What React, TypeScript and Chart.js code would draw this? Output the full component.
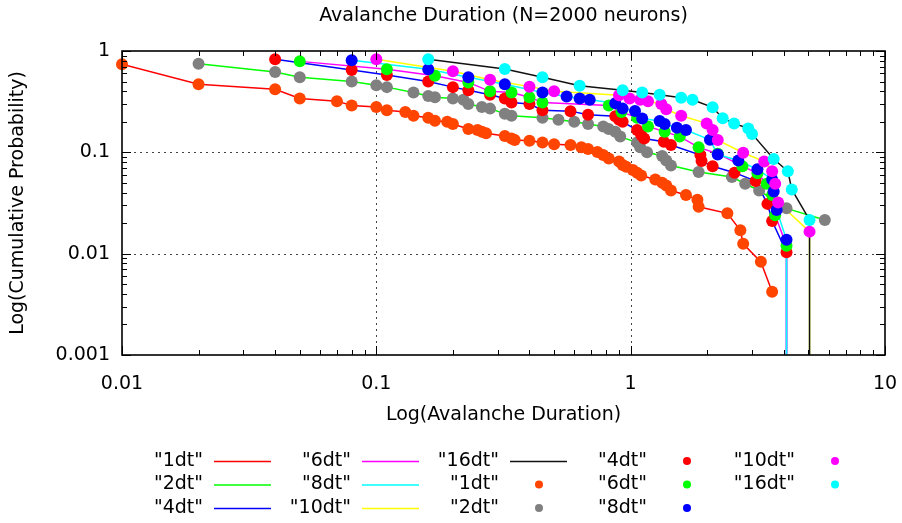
import { useEffect, useRef } from "react";
import { Chart, registerables } from "chart.js";

Chart.register(...registerables);

// Bin widths of the avalanche-duration analysis
const SERIES_NAMES = ["1dt", "2dt", "4dt", "6dt", "8dt", "10dt", "16dt"];
const LINE_COLORS = ["#ff0000", "#00ff00", "#0000ff", "#ff00ff", "#00ffff", "#ffff00", "#111111"];
const POINT_COLORS = ["#ff4500", "#808080", "#ff0000", "#00ff00", "#0000ff", "#ff00ff", "#00ffff"];

// Duration (x) and cumulative probability (y) per bin width.
// A trailing 0 marks where the distribution runs out.
const dur1dt = [0.01, 0.02, 0.04, 0.05, 0.07, 0.08, 0.1, 0.11, 0.13, 0.14, 0.16, 0.17, 0.19, 0.2, 0.23, 0.25, 0.26, 0.27, 0.32, 0.34, 0.35, 0.4, 0.45, 0.5, 0.58, 0.64, 0.68, 0.74, 0.78, 0.82, 0.9, 0.93, 0.96, 1.02, 1.06, 1.1, 1.25, 1.33, 1.38, 1.44, 1.65, 1.83, 1.85, 2.4, 2.7, 2.77, 3.25, 3.6];
const cdf1dt = [0.74, 0.47, 0.42, 0.34, 0.32, 0.29, 0.28, 0.26, 0.25, 0.23, 0.22, 0.205, 0.2, 0.19, 0.17, 0.166, 0.16, 0.154, 0.145, 0.137, 0.132, 0.13, 0.125, 0.12, 0.118, 0.112, 0.108, 0.101, 0.094, 0.087, 0.081, 0.075, 0.072, 0.067, 0.063, 0.059, 0.054, 0.05, 0.047, 0.042, 0.038, 0.034, 0.029, 0.025, 0.017, 0.0125, 0.0083, 0.0042];

const dur2dt = [0.02, 0.04, 0.05, 0.08, 0.1, 0.11, 0.14, 0.16, 0.17, 0.2, 0.22, 0.23, 0.26, 0.28, 0.32, 0.34, 0.45, 0.52, 0.6, 0.68, 0.78, 0.82, 0.87, 0.91, 1.06, 1.09, 1.16, 1.33, 1.38, 1.44, 1.85, 2.5, 2.82, 3.2, 4.1, 5.8];
const cdf2dt = [0.75, 0.62, 0.55, 0.5, 0.46, 0.44, 0.39, 0.36, 0.35, 0.34, 0.33, 0.3, 0.28, 0.27, 0.24, 0.23, 0.22, 0.21, 0.2, 0.19, 0.18, 0.17, 0.16, 0.143, 0.125, 0.112, 0.1, 0.092, 0.083, 0.074, 0.064, 0.057, 0.049, 0.042, 0.028, 0.0215];

const dur4dt = [0.04, 0.08, 0.11, 0.16, 0.2, 0.23, 0.28, 0.32, 0.34, 0.4, 0.45, 0.58, 0.68, 0.87, 0.9, 0.93, 1.06, 1.1, 1.13, 1.35, 1.44, 1.88, 1.9, 2.1, 2.56, 3.1, 3.45, 3.6, 4.1, 4.1];
const cdf4dt = [0.83, 0.65, 0.58, 0.5, 0.44, 0.41, 0.37, 0.34, 0.31, 0.3, 0.26, 0.255, 0.235, 0.227, 0.21, 0.2, 0.166, 0.148, 0.137, 0.127, 0.118, 0.094, 0.082, 0.073, 0.063, 0.052, 0.031, 0.021, 0.0103, 0];

const dur6dt = [0.05, 0.11, 0.17, 0.23, 0.28, 0.34, 0.4, 0.45, 0.82, 0.92, 1.06, 1.17, 1.36, 1.56, 1.85, 2.2, 2.75, 3.15, 3.43, 3.6, 3.7, 4.1, 4.1];
const cdf6dt = [0.79, 0.66, 0.57, 0.49, 0.4, 0.39, 0.35, 0.31, 0.29, 0.25, 0.22, 0.18, 0.16, 0.143, 0.112, 0.097, 0.073, 0.062, 0.049, 0.038, 0.024, 0.012, 0];

const dur8dt = [0.08, 0.16, 0.23, 0.32, 0.45, 0.56, 0.63, 0.69, 0.87, 0.93, 1.04, 1.11, 1.3, 1.36, 1.52, 1.65, 2.05, 2.2, 2.65, 3.15, 3.6, 3.65, 3.75, 4.1, 4.1];
const cdf8dt = [0.81, 0.66, 0.55, 0.47, 0.39, 0.355, 0.34, 0.33, 0.305, 0.27, 0.256, 0.216, 0.204, 0.19, 0.175, 0.166, 0.133, 0.095, 0.083, 0.068, 0.054, 0.041, 0.027, 0.0137, 0];

const dur10dt = [0.1, 0.2, 0.28, 0.4, 0.5, 0.9, 0.99, 1.09, 1.17, 1.32, 1.38, 1.58, 1.99, 2.1, 2.2, 2.77, 3.35, 3.6, 3.7, 3.8, 5.05, 5.05];
const cdf10dt = [0.83, 0.63, 0.52, 0.445, 0.4, 0.365, 0.34, 0.33, 0.32, 0.3, 0.266, 0.23, 0.193, 0.166, 0.132, 0.099, 0.081, 0.065, 0.049, 0.032, 0.0165, 0];

const dur16dt = [0.16, 0.32, 0.45, 0.63, 0.93, 1.11, 1.3, 1.58, 1.75, 2.1, 2.3, 2.55, 2.9, 3.0, 3.65, 4.15, 4.3, 5.05, 5.05];
const cdf16dt = [0.83, 0.665, 0.55, 0.455, 0.41, 0.39, 0.37, 0.345, 0.33, 0.278, 0.217, 0.193, 0.172, 0.152, 0.086, 0.065, 0.043, 0.0215, 0];

const DURATIONS = [dur1dt, dur2dt, dur4dt, dur6dt, dur8dt, dur10dt, dur16dt];
const CDFS = [cdf1dt, cdf2dt, cdf4dt, cdf6dt, cdf8dt, cdf10dt, cdf16dt];

const X_TICKS = [0.01, 0.1, 1, 10];
const Y_TICKS = [0.001, 0.01, 0.1, 1];

const TITLE = "Avalanche Duration (N=2000 neurons)";
const X_TITLE = "Log(Avalanche Duration)";
const Y_TITLE = "Log(Cumulative Probability)";

const FONT_FAMILY = "'DejaVu Sans', sans-serif";
const FONT_SIZE = 19;
const CSS_FONT = `${FONT_SIZE}px ${FONT_FAMILY}`;

const W = 902;
const H = 523;

// Minor tick values k * 10^d between two decades
function minorValues(majors: number[]): number[] {
  const out: number[] = [];
  for (let i = 0; i < majors.length - 1; i++) {
    for (let k = 2; k <= 9; k++) out.push(majors[i] * k);
  }
  return out;
}

const framePlugin = {
  id: "gnuFrame",
  beforeDatasetsDraw(chart: any) {
    const { ctx, chartArea: a, scales } = chart;
    ctx.save();
    ctx.strokeStyle = "#444";
    ctx.lineWidth = 1;
    ctx.setLineDash([2, 4]);
    X_TICKS.forEach((v) => {
      const px = Math.round(scales.x.getPixelForValue(v)) + 0.5;
      if (px <= a.left + 2 || px >= a.right - 2) return;
      ctx.beginPath();
      ctx.moveTo(px, a.bottom);
      ctx.lineTo(px, a.top);
      ctx.stroke();
    });
    Y_TICKS.forEach((v) => {
      const py = Math.round(scales.y.getPixelForValue(v)) + 0.5;
      if (py <= a.top + 2 || py >= a.bottom - 2) return;
      ctx.beginPath();
      ctx.moveTo(a.left, py);
      ctx.lineTo(a.right, py);
      ctx.stroke();
    });
    ctx.restore();
  },
  afterDatasetsDraw(chart: any) {
    const { ctx, chartArea: a, scales } = chart;
    ctx.save();
    ctx.strokeStyle = "#000";
    ctx.lineWidth = 1;
    const tick = (x1: number, y1: number, x2: number, y2: number) => {
      ctx.beginPath();
      ctx.moveTo(x1, y1);
      ctx.lineTo(x2, y2);
      ctx.stroke();
    };
    const xTicks = [
      ...X_TICKS.map((v) => [v, 9]),
      ...minorValues(X_TICKS).map((v) => [v, 5]),
    ];
    xTicks.forEach(([v, len]) => {
      const px = Math.round(scales.x.getPixelForValue(v)) + 0.5;
      tick(px, a.bottom, px, a.bottom - len);
      tick(px, a.top, px, a.top + len);
    });
    const yTicks = [
      ...Y_TICKS.map((v) => [v, 9]),
      ...minorValues(Y_TICKS).map((v) => [v, 5]),
    ];
    yTicks.forEach(([v, len]) => {
      const py = Math.round(scales.y.getPixelForValue(v)) + 0.5;
      tick(a.left, py, a.left + len, py);
      tick(a.right, py, a.right - len, py);
    });
    ctx.lineWidth = 1.6;
    ctx.strokeRect(a.left, a.top, a.right - a.left, a.bottom - a.top);
    ctx.restore();
  },
  afterDraw(chart: any) {
    const { ctx, chartArea: a } = chart;
    ctx.save();
    ctx.fillStyle = "#000";
    ctx.font = CSS_FONT;
    ctx.textAlign = "center";
    ctx.textBaseline = "middle";
    ctx.fillText(TITLE, (a.left + a.right) / 2, 16);

    // Key: three rows, filled column by column
    const firstLabelRight = 203;
    const colStep = 148;
    const firstRowY = 461;
    const rowStep = 23.5;
    chart.data.datasets.forEach((ds: any, i: number) => {
      const col = Math.floor(i / 3);
      const row = i % 3;
      const right = firstLabelRight + col * colStep;
      const y = firstRowY + row * rowStep;
      ctx.fillStyle = "#000";
      ctx.textAlign = "right";
      ctx.fillText(ds.label, right, y);
      if (ds.showLine) {
        ctx.strokeStyle = ds.borderColor;
        ctx.lineWidth = 1.5;
        ctx.beginPath();
        ctx.moveTo(right + 11, y + 0.5);
        ctx.lineTo(right + 68, y + 0.5);
        ctx.stroke();
      } else {
        ctx.fillStyle = ds.pointBackgroundColor;
        ctx.beginPath();
        ctx.arc(right + 40, y, 4, 0, Math.PI * 2);
        ctx.fill();
      }
    });
    ctx.restore();
  },
};

export default function App() {
  const canvasRef = useRef<HTMLCanvasElement | null>(null);

  useEffect(() => {
    const canvas = canvasRef.current;
    if (!canvas) return;
    const floor = Y_TICKS[0];

    const lineSets = SERIES_NAMES.map((name, i) => ({
      label: `"${name}"`,
      data: DURATIONS[i].map((x, j) => ({ x, y: Math.max(CDFS[i][j], floor) })),
      showLine: true,
      borderColor: LINE_COLORS[i],
      backgroundColor: LINE_COLORS[i],
      borderWidth: 1.5,
      pointRadius: 0,
      pointHoverRadius: 0,
      tension: 0,
      fill: false,
    }));

    const pointSets = SERIES_NAMES.map((name, i) => ({
      label: `"${name}"`,
      data: DURATIONS[i]
        .map((x, j) => ({ x, y: CDFS[i][j] }))
        .filter((p) => p.y > 0),
      showLine: false,
      pointRadius: 6,
      pointHoverRadius: 6,
      pointBorderWidth: 0,
      pointBackgroundColor: POINT_COLORS[i],
      backgroundColor: POINT_COLORS[i],
      borderColor: POINT_COLORS[i],
      clip: false,
    }));

    const datasets = [...lineSets, ...pointSets].map((ds, i, all) => ({
      ...ds,
      order: all.length - i,
    }));

    const tickFont = { family: FONT_FAMILY, size: FONT_SIZE };

    const chart = new Chart(canvas, {
      type: "scatter",
      data: { datasets } as any,
      plugins: [framePlugin],
      options: {
        responsive: false,
        animation: false,
        events: [],
        layout: { padding: { top: 51, right: 17, bottom: 93, left: 0 } },
        plugins: {
          legend: { display: false },
          tooltip: { enabled: false },
          title: { display: false },
        },
        scales: {
          x: {
            type: "logarithmic",
            position: "bottom",
            min: X_TICKS[0],
            max: X_TICKS[X_TICKS.length - 1],
            afterBuildTicks: (s: any) => {
              s.ticks = X_TICKS.map((value) => ({ value }));
            },
            afterFit: (s: any) => {
              s.height = 75;
              // the end labels may overhang the frame; keep the plot edge fixed
              s.paddingRight = 0;
              s.paddingLeft = 0;
            },
            grid: { display: false, drawTicks: false },
            border: { display: false },
            ticks: {
              color: "#000",
              font: tickFont,
              padding: 18,
              maxRotation: 0,
              autoSkip: false,
              callback: (v: any) => String(v),
            },
            title: {
              display: true,
              text: X_TITLE,
              color: "#000",
              font: tickFont,
              padding: { top: 0, bottom: 3.6 },
            },
          },
          y: {
            type: "logarithmic",
            position: "left",
            min: Y_TICKS[0],
            max: Y_TICKS[Y_TICKS.length - 1],
            afterBuildTicks: (s: any) => {
              s.ticks = Y_TICKS.map((value) => ({ value }));
            },
            afterFit: (s: any) => {
              s.width = 122;
              s.paddingTop = 0;
              s.paddingBottom = 0;
            },
            grid: { display: false, drawTicks: false },
            border: { display: false },
            ticks: {
              color: "#000",
              font: tickFont,
              padding: 12,
              autoSkip: false,
              callback: (v: any) => String(v),
            },
            title: {
              display: true,
              text: Y_TITLE,
              color: "#000",
              font: tickFont,
              padding: { top: 6.6, bottom: 0 },
            },
          },
        },
      } as any,
    });

    return () => chart.destroy();
  }, []);

  return (
    <div style={{ position: "fixed", left: 0, top: 0, width: W, height: H, background: "#fff" }}>
      <canvas ref={canvasRef} width={W} height={H} style={{ display: "block", width: W, height: H }} />
    </div>
  );
}
